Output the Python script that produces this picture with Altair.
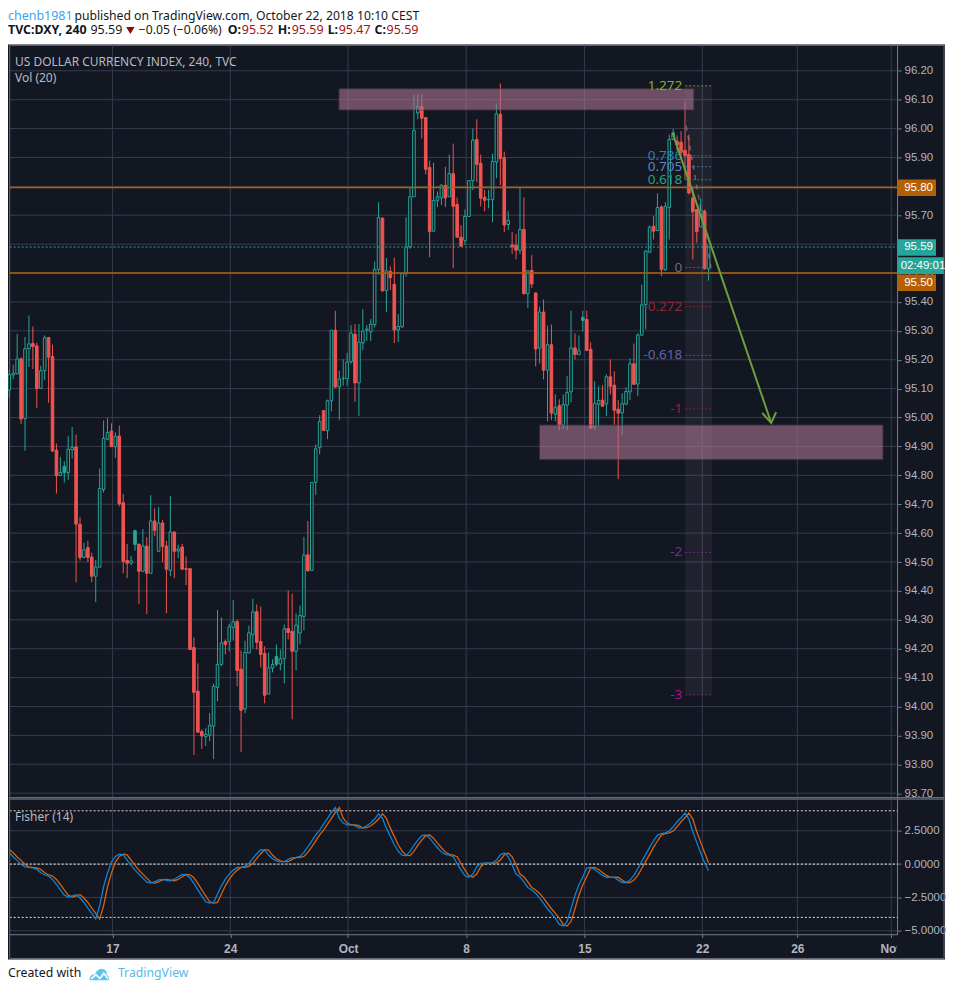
import altair as alt
import pandas as pd

highs = [95.165,95.183,95.290,95.208,95.279,95.353,95.315,95.259,95.179,95.284,
95.277,95.252,94.910,94.863,94.849,94.936,94.967,94.941,94.656,94.567,
94.574,94.532,94.507,94.824,94.990,94.998,94.980,94.949,94.972,94.735,
94.562,94.521,94.612,94.562,94.614,94.586,94.731,94.686,94.690,94.645,
94.573,94.728,94.604,94.560,94.563,94.519,94.477,94.239,94.149,93.921,
93.925,93.977,94.079,94.334,94.308,94.232,94.286,94.369,94.300,94.194,
94.228,94.280,94.373,94.353,94.346,94.208,94.187,94.163,94.215,94.197,
94.284,94.401,94.390,94.322,94.349,94.587,94.642,94.775,94.907,95.008,
95.024,95.062,95.302,95.369,95.162,95.202,95.224,95.320,95.324,95.324,
95.375,95.320,95.341,95.540,95.745,95.693,95.552,95.523,95.554,95.358,
95.499,95.693,95.794,96.117,96.120,96.120,96.039,95.889,95.882,95.782,
95.807,95.868,95.910,95.948,95.761,95.665,95.720,95.820,96.000,96.032,
95.910,95.787,95.787,95.913,96.087,96.156,95.920,95.714,95.642,95.635,
95.794,95.762,95.509,95.562,95.434,95.384,95.408,95.318,95.322,95.080,
95.063,95.080,95.143,95.370,95.291,95.284,95.370,95.370,95.260,95.125,
95.108,95.112,95.149,95.201,95.160,95.060,95.084,95.105,95.205,95.256,
95.291,95.460,95.579,95.665,95.697,95.776,95.734,95.745,95.979,95.999,
95.976,95.991,96.094,95.979,95.795,95.720,95.758,95.720,95.591]

lows = [95.068,95.133,95.151,94.978,94.885,95.175,95.168,95.033,95.101,95.130,
95.051,94.881,94.737,94.799,94.775,94.784,94.858,94.430,94.505,94.513,
94.499,94.430,94.361,94.482,94.740,94.921,94.899,94.861,94.692,94.461,
94.444,94.489,94.539,94.354,94.468,94.320,94.461,94.589,94.537,94.499,
94.323,94.451,94.444,94.513,94.475,94.420,94.197,93.832,93.911,93.853,
93.863,93.880,93.818,94.018,94.139,94.180,94.191,94.228,94.070,93.842,
93.977,94.185,94.201,94.197,94.135,94.011,94.043,94.118,94.139,94.125,
94.080,94.232,93.956,94.125,94.215,94.263,94.466,94.471,94.732,94.873,
94.955,94.925,95.022,95.101,94.991,95.110,95.110,95.186,95.054,95.006,
95.234,95.265,95.265,95.311,95.493,95.438,95.365,95.441,95.258,95.262,
95.310,95.487,95.584,95.764,96.032,95.966,95.842,95.555,95.642,95.728,
95.735,95.728,95.764,95.517,95.624,95.593,95.597,95.696,95.787,95.814,
95.731,95.714,95.724,95.676,95.828,95.804,95.642,95.649,95.566,95.548,
95.566,95.428,95.379,95.448,95.177,95.187,95.132,94.987,94.991,94.987,
94.956,94.960,94.956,95.053,95.201,95.218,95.298,95.232,94.963,94.956,
94.970,95.039,95.005,95.080,94.974,94.787,94.939,95.043,95.060,95.115,
95.074,95.285,95.305,95.570,95.616,95.645,95.489,95.507,95.616,95.962,
95.921,95.898,95.823,95.772,95.547,95.605,95.660,95.512,95.474]

opens = [95.095,95.147,95.151,95.203,94.997,95.238,95.256,95.248,95.101,95.162,
95.277,95.211,94.887,94.799,94.809,94.809,94.889,94.898,94.631,94.516,
94.550,94.517,94.451,94.482,94.751,94.925,94.953,94.899,94.936,94.705,
94.505,94.496,94.561,94.562,94.468,94.555,94.461,94.642,94.537,94.635,
94.555,94.471,94.604,94.538,94.552,94.477,94.477,94.204,94.053,93.913,
93.895,93.901,93.932,94.066,94.146,94.225,94.225,94.274,94.294,94.129,
93.992,94.185,94.248,94.328,94.225,94.184,94.043,94.133,94.146,94.147,
94.165,94.270,94.260,94.191,94.254,94.312,94.525,94.471,94.776,94.896,
95.024,94.955,95.058,95.302,95.106,95.135,95.135,95.193,95.288,95.120,
95.258,95.302,95.297,95.322,95.512,95.690,95.439,95.506,95.461,95.303,
95.314,95.498,95.590,95.764,96.054,96.076,96.038,95.865,95.645,95.750,
95.760,95.803,95.764,95.844,95.737,95.624,95.613,95.696,95.820,95.962,
95.880,95.762,95.754,95.754,95.884,96.049,95.899,95.668,95.597,95.596,
95.579,95.651,95.429,95.509,95.431,95.240,95.365,95.164,95.252,95.012,
95.041,94.974,95.043,95.089,95.241,95.218,95.336,95.339,95.236,94.967,
95.046,95.060,95.047,95.141,95.112,95.029,95.016,95.046,95.089,95.186,
95.116,95.285,95.390,95.572,95.662,95.647,95.729,95.512,95.727,95.962,
95.956,95.953,95.925,95.910,95.760,95.720,95.660,95.714,95.515]

closes = [95.148,95.153,95.203,94.995,95.238,95.255,95.246,95.100,95.162,95.276,
95.209,94.884,94.799,94.810,94.831,94.890,94.897,94.631,94.516,94.542,
94.516,94.451,94.483,94.755,94.928,94.948,94.899,94.935,94.701,94.502,
94.496,94.504,94.608,94.468,94.555,94.461,94.642,94.609,94.635,94.554,
94.475,94.604,94.537,94.545,94.475,94.475,94.197,94.049,93.911,93.898,
93.903,93.934,94.070,94.145,94.220,94.215,94.276,94.293,94.125,93.987,
94.187,94.255,94.327,94.222,94.180,94.039,94.134,94.145,94.173,94.165,
94.269,94.256,94.191,94.282,94.315,94.524,94.470,94.775,94.892,94.986,
94.955,95.058,95.302,95.106,95.133,95.136,95.192,95.292,95.120,95.261,
95.299,95.306,95.323,95.513,95.692,95.438,95.508,95.484,95.303,95.315,
95.498,95.591,95.764,95.993,96.076,96.036,95.859,95.643,95.751,95.764,
95.804,95.760,95.844,95.731,95.624,95.593,95.696,95.820,95.960,95.876,
95.759,95.752,95.754,95.886,96.051,95.896,95.666,95.682,95.591,95.579,
95.651,95.428,95.508,95.462,95.237,95.365,95.164,95.252,95.015,95.034,
94.974,95.045,95.086,95.241,95.218,95.231,95.346,95.232,94.963,95.049,
95.059,95.039,95.141,95.108,95.025,95.015,95.048,95.090,95.186,95.115,
95.286,95.390,95.576,95.659,95.645,95.727,95.512,95.730,95.962,95.985,
95.944,95.918,95.906,95.777,95.712,95.643,95.717,95.515,95.591]

solid_up_bars = [15, 33, 69, 147]

fisher = [0.85,0.53,0.28,-0.03,-0.2,-0.25,-0.28,-0.4,-0.65,-0.8,
-0.9,-1.15,-1.53,-1.93,-2.33,-2.48,-2.38,-2.3,-2.55,-2.88,
-3.3,-3.7,-4.13,-3.13,-1.7,-0.68,0.15,0.58,0.75,0.7,
0.3,-0.1,-0.45,-0.75,-1.05,-1.35,-1.43,-1.33,-1.18,-1.15,
-1.2,-1.25,-1.15,-0.95,-0.78,-0.8,-1.03,-1.45,-1.93,-2.38,
-2.83,-2.93,-2.88,-2.25,-1.63,-1.13,-0.75,-0.45,-0.25,-0.25,
-0.18,0.05,0.43,0.78,1.08,1.05,0.68,0.4,0.25,0.18,
0.18,0.35,0.48,0.5,0.58,0.88,1.3,1.75,2.2,2.55,
3.0,3.43,3.88,4.25,3.45,3.08,2.95,2.95,2.88,2.7,
2.73,2.88,3.08,3.38,3.78,3.43,2.7,2.08,1.45,0.98,
0.65,0.63,0.95,1.4,1.8,2.13,2.18,1.95,1.58,1.23,
0.9,0.73,0.68,0.55,0.03,-0.45,-0.88,-0.98,-0.75,-0.2,
0.05,0.08,0.08,0.08,0.3,0.7,0.83,0.55,-0.05,-0.75,
-0.95,-1.33,-1.75,-1.95,-2.2,-2.55,-2.95,-3.35,-3.7,-4.05,
-4.53,-4.65,-4.3,-3.35,-2.33,-1.55,-0.95,-0.3,-0.25,-0.4,
-0.63,-0.85,-1.0,-1.0,-0.98,-1.2,-1.38,-1.38,-1.2,-0.85,
-0.33,0.2,0.73,1.25,1.75,2.18,2.28,2.35,2.48,2.8,
3.18,3.48,3.83,3.38,2.43,1.63,0.85,0.1,-0.5]

trigger = [1.1,0.85,0.53,0.28,-0.03,-0.2,-0.25,-0.28,-0.4,-0.65,
-0.8,-0.9,-1.15,-1.53,-1.93,-2.33,-2.48,-2.38,-2.3,-2.55,
-2.88,-3.3,-3.7,-4.13,-3.13,-1.7,-0.68,0.15,0.58,0.75,
0.7,0.3,-0.1,-0.45,-0.75,-1.05,-1.35,-1.43,-1.33,-1.18,
-1.15,-1.2,-1.25,-1.15,-0.95,-0.78,-0.8,-1.03,-1.45,-1.93,
-2.38,-2.83,-2.93,-2.88,-2.25,-1.63,-1.13,-0.75,-0.45,-0.25,
-0.25,-0.18,0.05,0.43,0.78,1.08,1.05,0.68,0.4,0.25,
0.18,0.18,0.35,0.48,0.5,0.58,0.88,1.3,1.75,2.2,
2.55,3.0,3.43,3.88,4.25,3.45,3.08,2.95,2.95,2.88,
2.7,2.73,2.88,3.08,3.38,3.78,3.43,2.7,2.08,1.45,
0.98,0.65,0.63,0.95,1.4,1.8,2.13,2.18,1.95,1.58,
1.23,0.9,0.73,0.68,0.55,0.03,-0.45,-0.88,-0.98,-0.75,
-0.2,0.05,0.08,0.08,0.08,0.3,0.7,0.83,0.55,-0.05,
-0.75,-0.95,-1.33,-1.75,-1.95,-2.2,-2.55,-2.95,-3.35,-3.7,
-4.05,-4.53,-4.65,-4.3,-3.35,-2.33,-1.55,-0.95,-0.3,-0.25,
-0.4,-0.63,-0.85,-1.0,-1.0,-0.98,-1.2,-1.38,-1.38,-1.2,
-0.85,-0.33,0.2,0.73,1.25,1.75,2.18,2.28,2.35,2.48,
2.8,3.18,3.48,3.83,3.38,2.43,1.63,0.85,0.1]

price_ticks = [96.2,96.1,96.0,95.9,95.8,95.7,95.6,95.5,95.4,95.3,95.2,95.1,95.0,
               94.9,94.8,94.7,94.6,94.5,94.4,94.3,94.2,94.1,94.0,93.9,93.8,93.7]
fisher_ticks = [2.5, 0, -2.5, -5]
fisher_levels = [4, 0, -4]
time_ticks = [27.25, 57.25, 87.25, 117.3, 147.4, 177.4, 201.6, 225.5]
time_labels = ["17", "24", "Oct", "8", "15", "22", "26", "Nov"]

fib_levels = [96.148, 95.906, 95.868, 95.823, 95.519, 95.384, 95.215, 95.03, 94.533, 94.04]
fib_names = ["1.272", "0.786", "0.705", "0.618", "0", "-0.272", "-0.618", "-1", "-2", "-3"]
fib_colors = ["#8bb01e", "#2f7fb5", "#5b85c4", "#26a37a", "#6b6e76", "#9b2335",
              "#6a5fa5", "#a02035", "#7b2a9a", "#a01a7a"]

X_MIN, X_START, X_AXIS, X_END, X_MAX = 0.669, 1.1, 227.11, 238.95, 239.19
BG, GRID, AXIS, TXT, EDGE = "#131722", "#363c4e", "#787b86", "#b2b5be", "#6a6d78"
UP, DOWN, ORANGE = "#26a69a", "#ef5350", "#b45f06"
FONT = "Liberation Sans"
SANS = "Noto Sans"
WIDTH = 938

xs = alt.Scale(domain=[X_MIN, X_MAX], nice=False, zero=False, padding=0)
ys = alt.Scale(domain=[93.681, 96.291], nice=False, zero=False)
yf = alt.Scale(domain=[-7.16, 4.91], nice=False, zero=False)

price_axis = alt.Axis(orient="right", offset=-48, values=price_ticks, format=".2f", grid=False,
                      domainColor=AXIS, tickColor=AXIS, tickSize=4, labelColor=TXT, labelFont=FONT,
                      labelFontSize=11.5, labelPadding=3, labelOverlap=False, labelFlush=False, title=None)
fisher_axis = alt.Axis(orient="right", offset=-48, values=fisher_ticks, format=".4f", grid=False,
                       domainColor=AXIS, tickColor=AXIS, tickSize=4, labelColor=TXT, labelFont=FONT,
                       labelFontSize=11.5, labelPadding=3, labelOverlap=False, labelFlush=False, title=None)
expr = "[" + ",".join(f"'{s}'" for s in time_labels) + "][indexof([" + ",".join(str(v) for v in time_ticks) + "], datum.value)]"
time_axis = alt.Axis(orient="bottom", offset=-25, values=time_ticks, labelExpr=expr, grid=False, domain=False,
                     tickColor=AXIS, tickSize=3, labelColor=TXT, labelFont=FONT, labelFontSize=12,
                     labelFontWeight="bold", labelPadding=6, labelOverlap=False, labelFlush=False, title=None)

X = lambda f="x": alt.X(f"{f}:Q", scale=xs, axis=None, title=None)
Y = lambda f="y": alt.Y(f"{f}:Q", scale=ys, axis=price_axis, title=None)
XF = lambda f="x": alt.X(f"{f}:Q", scale=xs, axis=time_axis, title=None)
YF = lambda f="y": alt.Y(f"{f}:Q", scale=yf, axis=fisher_axis, title=None)

bars = pd.DataFrame({"x": range(1, len(opens) + 1), "o": opens, "h": highs, "l": lows, "c": closes})
bars["up"] = bars.c >= bars.o
bars["stroke_c"] = bars.up.map({True: UP, False: DOWN})
bars["fill_c"] = [DOWN if not u else (UP if i in solid_up_bars else BG) for i, u in zip(bars.x, bars.up)]

# ---------- main pane ----------
hgrid = pd.DataFrame({"y": price_ticks, "x": X_START, "x2": X_AXIS})
vgrid = pd.DataFrame({"x": time_ticks, "y": 93.681, "y2": 96.291})
m_hgrid = alt.Chart(hgrid).mark_rule(color=GRID, strokeWidth=1).encode(x=X(), x2="x2:Q", y=Y())
m_vgrid = alt.Chart(vgrid).mark_rule(color=GRID, strokeWidth=1).encode(x=X(), y=Y(), y2="y2:Q")

m_edges_v = alt.Chart(pd.DataFrame({"x": [X_START, X_END], "y": 93.681, "y2": 96.291})).mark_rule(color=EDGE, strokeWidth=1).encode(
    x=X(), y=Y(), y2="y2:Q")
m_edges_h = alt.Chart(pd.DataFrame({"y": [96.288, 93.685], "x": X_START, "x2": X_END})).mark_rule(color=EDGE, strokeWidth=1).encode(
    x=X(), x2="x2:Q", y=Y())

fib_band = alt.Chart(pd.DataFrame({"x": [173.07], "x2": [179.86], "y": [96.148], "y2": [94.04]})).mark_rect(
    color="#ffffff", opacity=0.05).encode(x=X(), x2="x2:Q", y=Y(), y2="y2:Q")

wicks = alt.Chart(bars).mark_rule(strokeWidth=1).encode(x=X(), y=Y("h"), y2="l:Q",
                                                        color=alt.Color("stroke_c:N", scale=None))
bodies = alt.Chart(bars).mark_bar(size=2.6, strokeWidth=1, clip=True).encode(
    x=X(), y=Y("o"), y2="c:Q",
    fill=alt.Fill("fill_c:N", scale=None), stroke=alt.Stroke("stroke_c:N", scale=None))

boxes = alt.Chart(pd.DataFrame({"x": [84.91, 135.95], "x2": [175.28, 223.41],
                                "y": [96.138, 94.974], "y2": [96.064, 94.854]})).mark_rect(
    color="#ab7490", opacity=0.6, stroke="#4a3a4d", strokeWidth=1).encode(x=X(), x2="x2:Q", y=Y(), y2="y2:Q")

h_lines = pd.DataFrame({"y": [95.796, 95.50], "x": X_START, "x2": X_AXIS})
orange_lines = alt.Chart(h_lines).mark_rule(color=ORANGE, strokeWidth=1.5).encode(x=X(), x2="x2:Q", y=Y())
last_line = alt.Chart(pd.DataFrame({"y": [95.59], "x": [X_START], "x2": [X_AXIS]})).mark_rule(
    color=UP, strokeWidth=1, strokeDash=[2, 2]).encode(x=X(), x2="x2:Q", y=Y())

fib_df = pd.DataFrame({"y": fib_levels, "name": fib_names, "col": fib_colors, "x": 173.07, "x2": 179.86, "tx": 172.3})
fib_rules = alt.Chart(fib_df).mark_rule(strokeWidth=1, strokeDash=[2, 2], opacity=0.8).encode(
    x=X(), x2="x2:Q", y=Y(), color=alt.Color("col:N", scale=None))
fib_text = alt.Chart(fib_df).mark_text(align="right", baseline="middle", font=SANS, fontSize=13.5).encode(
    x=X("tx"), y=Y(), text="name:N", color=alt.Color("col:N", scale=None))

fib_path = alt.Chart(pd.DataFrame({"x": [173.3, 179.6], "y": [96.01, 95.52]})).mark_line(
    color="#8a8d93", strokeWidth=1.5, strokeDash=[5, 5], opacity=0.6).encode(x=X(), y=Y())

arrow_shaft = alt.Chart(pd.DataFrame({"x": [169.84, 194.95], "y": [95.985, 94.981]})).mark_line(
    color="#6e9f3f", strokeWidth=2).encode(x=X(), y=Y())
arrow_head = alt.Chart(pd.DataFrame({"x": [192.66, 194.95, 196.2], "y": [95.016, 94.981, 95.019]})).mark_line(
    color="#6e9f3f", strokeWidth=2).encode(x=X(), y=Y())

tags = pd.DataFrame({
    "x": X_AXIS, "x2": [236.9, 236.9, 238.9, 236.9],
    "y": [95.824, 95.617, 95.555, 95.495], "y2": [95.767, 95.560, 95.497, 95.438],
    "col": [ORANGE, UP, UP, ORANGE],
    "tx": [228.8, 228.8, 227.9, 228.8], "ty": [95.796, 95.59, 95.526, 95.467],
    "label": ["95.80", "95.59", "02:49:01", "95.50"]})
tag_boxes = alt.Chart(tags).mark_rect().encode(x=X(), x2="x2:Q", y=Y(), y2="y2:Q", color=alt.Color("col:N", scale=None))
tag_text = alt.Chart(tags).mark_text(align="left", baseline="middle", font=FONT, fontSize=11.5, color="#ffffff").encode(
    x=X("tx"), y=Y("ty"), text="label:N")

pane_text = alt.Chart(pd.DataFrame({"x": [2.45, 2.45], "y": [96.232, 96.174],
                                    "t": ["US DOLLAR CURRENCY INDEX, 240, TVC", "Vol (20)"]})).mark_text(
    align="left", baseline="middle", font=SANS, fontSize=12, color="#b7bac2").encode(x=X(), y=Y(), text="t:N")

view_style = alt.ViewConfig(fill=BG, stroke=None)
main = alt.layer(m_hgrid, m_vgrid, m_edges_v, m_edges_h, fib_band, wicks, bodies, boxes, orange_lines, last_line, fib_rules, fib_text,
                 fib_path, arrow_shaft, arrow_head, tag_boxes, tag_text, pane_text).properties(
    width=WIDTH, height=755, view=view_style)

# ---------- Fisher pane ----------
f_df = pd.DataFrame({"x": bars.x, "f": fisher, "t": trigger})
f_hgrid = alt.Chart(pd.DataFrame({"y": fisher_ticks, "x": X_START, "x2": X_AXIS})).mark_rule(color=GRID, strokeWidth=1).encode(
    x=XF(), x2="x2:Q", y=YF())
f_vgrid = alt.Chart(pd.DataFrame({"x": time_ticks, "y": -5.3, "y2": 4.91})).mark_rule(color=GRID, strokeWidth=1).encode(
    x=XF(), y=YF(), y2="y2:Q")
f_levels = alt.Chart(pd.DataFrame({"y": fisher_levels, "x": X_START, "x2": X_AXIS, "c": ["#ffd9c8", "#ffffff", "#ffd9c8"]})).mark_rule(
    strokeWidth=1, strokeDash=[2, 2]).encode(x=XF(), x2="x2:Q", y=YF(), color=alt.Color("c:N", scale=None))
f_base = alt.Chart(pd.DataFrame({"y": [-5.3], "x": [X_START], "x2": [X_AXIS]})).mark_rule(color=AXIS, strokeWidth=1).encode(
    x=XF(), x2="x2:Q", y=YF())
f_trigger = alt.Chart(f_df).mark_line(color="#d9620c", strokeWidth=1.3, clip=True).encode(x=XF(), y=YF("t"))
f_line = alt.Chart(f_df).mark_line(color="#0a84d6", strokeWidth=1.3, clip=True).encode(x=XF(), y=YF("f"))
f_text = alt.Chart(pd.DataFrame({"x": [2.45], "y": [3.56], "t": ["Fisher (14)"]})).mark_text(
    align="left", baseline="middle", font=SANS, fontSize=12, color="#b7bac2").encode(x=XF(), y=YF(), text="t:N")
f_mask = alt.Chart(pd.DataFrame({"x": [226.98], "x2": [239.1], "y": [-5.33], "y2": [-7.1]})).mark_rect(color=BG).encode(
    x=XF(), x2="x2:Q", y=YF(), y2="y2:Q")
f_edges_v = alt.Chart(pd.DataFrame({"x": [X_START, X_END], "y": -7.08, "y2": 4.91})).mark_rule(color=EDGE, strokeWidth=1).encode(
    x=XF(), y=YF(), y2="y2:Q")
f_edges_h = alt.Chart(pd.DataFrame({"y": [4.87, -7.08], "x": X_START, "x2": X_END})).mark_rule(color=EDGE, strokeWidth=1).encode(
    x=XF(), x2="x2:Q", y=YF())
fisher_pane = alt.layer(f_hgrid, f_vgrid, f_levels, f_base, f_trigger, f_line, f_text, f_mask, f_edges_v, f_edges_h).properties(
    width=WIDTH, height=161, view=view_style)

# ---------- header and footer ----------
one = alt.Data(values=[{}])
def label(text, x, y, size=12, color="#131722", weight="normal", font=SANS, baseline="middle"):
    return alt.Chart(one).mark_text(text=text, align="left", baseline=baseline, fontSize=size, color=color,
                                    fontWeight=weight, font=font).encode(x=alt.value(x), y=alt.value(y))

DARKRED = "#a61111"
header_items = [
    label("chenb1981", 0, 1, 12.5, "#37a6ef", baseline="top"),
    label("published on TradingView.com, October 22, 2018 10:10 CEST", 66.5, 1, 12.2, baseline="top"),
    label("TVC:DXY, 240", 0, 22, 12.4, weight="bold"),
    label("95.59", 82.5, 22, 12.5),
    alt.Chart(one).mark_point(shape="triangle-down", filled=True, size=70, color="#8b0a0a", opacity=1).encode(
        x=alt.value(122.5), y=alt.value(22)),
    label("\u22120.05 (\u22120.06%)", 131, 22, 12.2),
    label("O:", 220, 22, 12.4, weight="bold"), label("95.52", 234, 22, 12.5, DARKRED),
    label("H:", 270, 22, 12.4, weight="bold"), label("95.59", 284, 22, 12.5, DARKRED),
    label("L:", 320, 22, 12.4, weight="bold"), label("95.47", 331, 22, 12.5, DARKRED),
    label("C:", 367, 22, 12.4, weight="bold"), label("95.59", 379, 22, 12.5, DARKRED),
]
header = alt.layer(*header_items).properties(width=WIDTH, height=36, view=alt.ViewConfig(stroke=None))

CLOUD = "M-1,0.6 C-1.05,0.15 -0.75,-0.05 -0.45,0 C-0.35,-0.35 -0.05,-0.6 0.25,-0.55 C0.55,-0.6 0.85,-0.25 0.72,0.05 C0.98,0.1 1.05,0.4 0.95,0.6 Z"
ZIGZAG = "M-0.85,0.45 L-0.35,0.02 L0.05,0.42 L0.45,-0.12 L0.9,0.45"
footer_items = [
    label("Created with", 0, 14, 12.3),
    alt.Chart(one).mark_point(shape=CLOUD, filled=True, size=380, color="#5cc4ee", opacity=1, clip=True).encode(
        x=alt.value(91.5), y=alt.value(15)),
    alt.Chart(one).mark_point(shape=ZIGZAG, filled=False, size=380, color="#ffffff", strokeWidth=1.6, opacity=1, clip=True).encode(
        x=alt.value(91.5), y=alt.value(15)),
    label("TradingView", 110, 14, 12.3, "#5cb8e6"),
]
footer = alt.layer(*footer_items).properties(width=WIDTH, height=22, view=alt.ViewConfig(stroke=None))

chart = alt.vconcat(header, main, fisher_pane, footer, spacing=0, bounds="flush").properties(
    padding=0, background="#ffffff").configure_view(stroke=None)

chart.save("out.html", embed_options={"renderer": "svg", "actions": False})
